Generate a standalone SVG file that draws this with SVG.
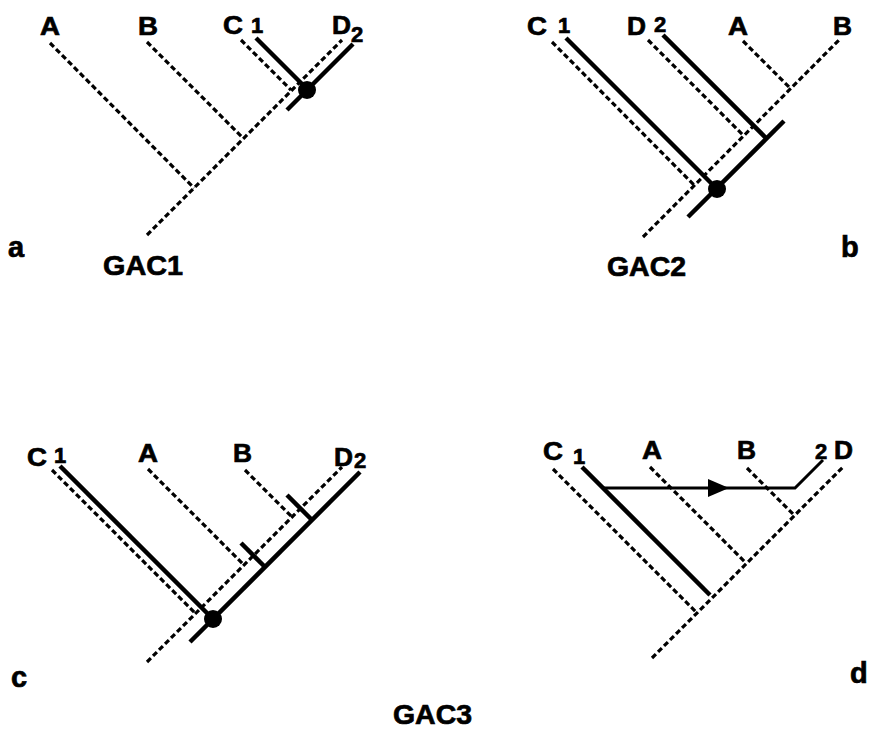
<svg xmlns="http://www.w3.org/2000/svg" width="871" height="731" viewBox="0 0 871 731">
<style>
.bg{fill:#fff}
.dash{fill:none;stroke:#000;stroke-width:3.2;stroke-dasharray:5.5 3}
.thick{fill:none;stroke:#000;stroke-width:4.5}
.thin{fill:none;stroke:#000;stroke-width:3}
.lbl{font-family:"Liberation Sans",Arial,sans-serif;font-weight:bold;font-size:26px;fill:#000;stroke:#000;stroke-width:0.7}
.num{font-family:"Liberation Sans",Arial,sans-serif;font-weight:bold;font-size:22px;fill:#000;stroke:#000;stroke-width:0.7}
.pan{font-family:"Liberation Sans",Arial,sans-serif;font-weight:bold;font-size:29px;fill:#000;stroke:#000;stroke-width:0.7}
.gac{font-family:"Liberation Sans",Arial,sans-serif;font-weight:bold;font-size:28px;fill:#000;stroke:#000;stroke-width:0.7}
</style>
<rect class="bg" width="871" height="731"/>

<g id="connectors">
  <!-- panel a -->
  <line class="dash" x1="147" y1="235" x2="342" y2="40"/>
  <line class="dash" x1="50" y1="43" x2="194" y2="188"/>
  <line class="dash" x1="147" y1="42" x2="243" y2="138"/>
  <line class="dash" x1="241" y1="40" x2="291" y2="90"/>
  <line class="thick" x1="256" y1="38" x2="307" y2="89"/>
  <line class="thick" x1="287" y1="110" x2="353" y2="44"/>
  <!-- panel b -->
  <line class="dash" x1="643" y1="237" x2="840" y2="39"/>
  <line class="dash" x1="552" y1="42" x2="694" y2="185"/>
  <line class="dash" x1="648" y1="40" x2="743" y2="135"/>
  <line class="dash" x1="743" y1="41" x2="790" y2="88"/>
  <line class="thick" x1="566" y1="38" x2="717" y2="189"/>
  <line class="thick" x1="663" y1="35" x2="766" y2="138"/>
  <line class="thick" x1="688" y1="217" x2="784" y2="121"/>
  <!-- panel c -->
  <line class="dash" x1="147" y1="662" x2="342" y2="467"/>
  <line class="dash" x1="52" y1="470" x2="195" y2="613"/>
  <line class="dash" x1="148" y1="469" x2="244" y2="565"/>
  <line class="dash" x1="245" y1="470" x2="292" y2="517"/>
  <line class="thick" x1="60" y1="466" x2="213" y2="619"/>
  <line class="thick" x1="190" y1="642" x2="360" y2="472"/>
  <line class="thick" x1="241" y1="543" x2="265" y2="567"/>
  <line class="thick" x1="287" y1="495" x2="312" y2="520"/>
  <!-- panel d -->
  <line class="dash" x1="652" y1="658" x2="843" y2="467"/>
  <line class="dash" x1="553" y1="469" x2="697" y2="613"/>
  <line class="dash" x1="650" y1="467" x2="746" y2="563"/>
  <line class="dash" x1="747" y1="468" x2="794" y2="515"/>
  <line class="thick" x1="582" y1="467" x2="710" y2="595"/>
  <polyline class="thin" points="603,488 795,488 823,460"/>
  <polygon points="708,479 729,488 708,497" fill="#000"/>
</g>

<g id="node-a">
  <circle cx="307" cy="90" r="9"/>
  <text class="lbl" x="40" y="35" textLength="20" lengthAdjust="spacingAndGlyphs">A</text>
  <text class="lbl" x="138" y="35" textLength="20" lengthAdjust="spacingAndGlyphs">B</text>
  <text class="lbl" x="223" y="34" textLength="20" lengthAdjust="spacingAndGlyphs">C</text>
  <text class="num" x="251" y="33">1</text>
  <text class="lbl" x="332" y="34" textLength="19" lengthAdjust="spacingAndGlyphs">D</text>
  <text class="num" x="351" y="42">2</text>
  <text class="pan" x="8" y="257">a</text>
  <text class="gac" x="103" y="275" textLength="80" lengthAdjust="spacingAndGlyphs">GAC1</text>
</g>

<g id="node-b">
  <circle cx="717" cy="189" r="9"/>
  <text class="lbl" x="527" y="35" textLength="20" lengthAdjust="spacingAndGlyphs">C</text>
  <text class="num" x="558" y="33">1</text>
  <text class="lbl" x="627" y="35" textLength="19" lengthAdjust="spacingAndGlyphs">D</text>
  <text class="num" x="654" y="32">2</text>
  <text class="lbl" x="728" y="35" textLength="20" lengthAdjust="spacingAndGlyphs">A</text>
  <text class="lbl" x="833" y="35" textLength="19" lengthAdjust="spacingAndGlyphs">B</text>
  <text class="pan" x="841" y="257">b</text>
  <text class="gac" x="607" y="276" textLength="79" lengthAdjust="spacingAndGlyphs">GAC2</text>
</g>

<g id="node-c">
  <circle cx="213" cy="619" r="9"/>
  <text class="lbl" x="27" y="466" textLength="20" lengthAdjust="spacingAndGlyphs">C</text>
  <text class="num" x="54" y="463">1</text>
  <text class="lbl" x="138" y="462" textLength="20" lengthAdjust="spacingAndGlyphs">A</text>
  <text class="lbl" x="233" y="462" textLength="19" lengthAdjust="spacingAndGlyphs">B</text>
  <text class="lbl" x="334" y="466" textLength="19" lengthAdjust="spacingAndGlyphs">D</text>
  <text class="num" x="354" y="468">2</text>
  <text class="pan" x="11" y="687">c</text>
</g>

<g id="node-d">
  <text class="lbl" x="543" y="460" textLength="20" lengthAdjust="spacingAndGlyphs">C</text>
  <text class="num" x="573" y="464">1</text>
  <text class="lbl" x="642" y="459" textLength="20" lengthAdjust="spacingAndGlyphs">A</text>
  <text class="lbl" x="737" y="459" textLength="19" lengthAdjust="spacingAndGlyphs">B</text>
  <text class="num" x="815" y="459">2</text>
  <text class="lbl" x="834" y="459" textLength="19" lengthAdjust="spacingAndGlyphs">D</text>
  <text class="pan" x="850" y="683">d</text>
</g>

<g id="title">
  <text class="gac" x="393" y="724" textLength="79" lengthAdjust="spacingAndGlyphs">GAC3</text>
</g>
</svg>
